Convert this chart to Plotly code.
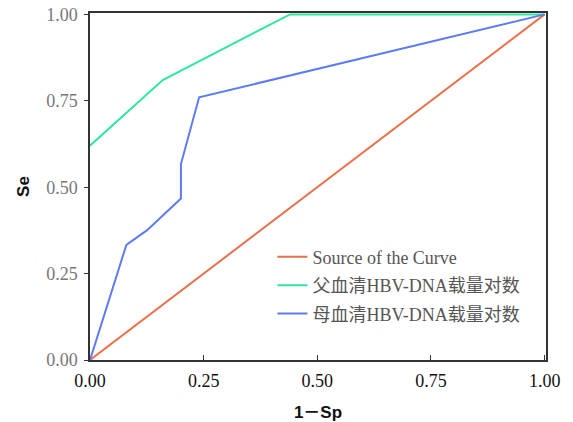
import plotly.graph_objects as go

# Data
ref_x = [0.0, 1.0]
ref_y = [0.0, 1.0]
father_x = [0.0, 0.16, 0.44, 1.0]
father_y = [0.62, 0.81, 1.0, 1.0]
mother_x = [0.0, 0.08, 0.125, 0.20, 0.20, 0.24, 1.0]
mother_y = [0.0, 0.333, 0.375, 0.467, 0.567, 0.76, 1.0]
tick_vals = [0.0, 0.25, 0.5, 0.75, 1.0]
tick_text = ["0.00", "0.25", "0.50", "0.75", "1.00"]
names = ["Source of the Curve", "父血清HBV-DNA载量对数", "母血清HBV-DNA载量对数"]

serif = "Liberation Serif, Noto Sans CJK SC, serif"
sans = "Liberation Sans, Noto Sans CJK SC, sans-serif"

fig = go.Figure()
fig.add_trace(go.Scatter(x=ref_x, y=ref_y, mode="lines", name=names[0],
                         legendgroup="a", line=dict(color="#E8714C", width=2)))
fig.add_trace(go.Scatter(x=father_x, y=father_y, mode="lines", name=names[1],
                         legendgroup="b", line=dict(color="#2FE6A2", width=2)))
fig.add_trace(go.Scatter(x=mother_x, y=mother_y, mode="lines", name=names[2],
                         legendgroup="c", line=dict(color="#5C7CF2", width=2)))

fig.update_layout(
    width=573, height=422,
    margin=dict(l=90, r=27, t=13, b=62, autoexpand=False),
    paper_bgcolor="white", plot_bgcolor="white",
    showlegend=True,
    legend=dict(x=0.40, y=0.35, xanchor="left", yanchor="top",
                bgcolor="rgba(0,0,0,0)",
                font=dict(family=serif, size=18, color="#555555"),
                tracegroupgap=2, itemwidth=30),
)
fig.update_xaxes(range=[0, 1.003], tickvals=tick_vals, ticktext=tick_text,
                 showgrid=False, zeroline=False, showline=True, mirror=True,
                 linecolor="#333333", linewidth=1.5, layer="below traces",
                 ticks="inside", ticklen=5, tickcolor="#333333",
                 ticklabelstandoff=4, ticklabeloverflow="allow",
                 tickfont=dict(family=serif, size=18, color="#111111"),
                 title=dict(text="<b>1－Sp</b>", font=dict(family=sans, size=17, color="#111111"), standoff=16))
fig.update_yaxes(range=[0, 1.004], tickvals=tick_vals, ticktext=tick_text,
                 showgrid=False, zeroline=False, showline=True, mirror=True,
                 linecolor="#333333", linewidth=1.5, layer="below traces",
                 ticks="outside", ticklen=4, tickcolor="#333333",
                 ticklabelstandoff=3, ticklabeloverflow="allow",
                 tickfont=dict(family=serif, size=18, color="#777777"),
                 title=dict(text="<b>Se</b>", font=dict(family=sans, size=17, color="#111111"), standoff=12))

fig.write_html("out.html", post_script="document.body.style.margin='0';",
               config={"displayModeBar": False})
